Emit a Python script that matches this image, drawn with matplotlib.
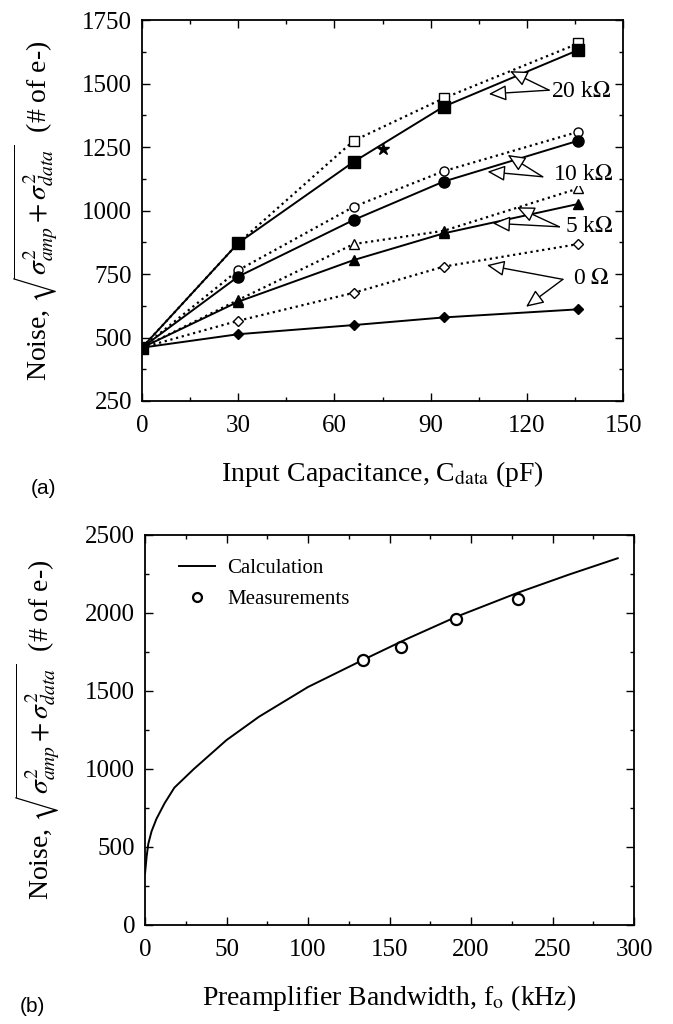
import matplotlib
matplotlib.use("Agg")
import matplotlib.pyplot as plt
from matplotlib.ticker import MultipleLocator

plt.rcParams['font.family'] = ['Liberation Serif', 'DejaVu Serif']
plt.rcParams['mathtext.fontset'] = 'stix'

# panel (a): noise vs input capacitance
cap = [0, 30, 66, 94, 136]
r20_solid = [460, 872, 1192, 1409, 1632]
r20_dot = [460, 872, 1275, 1442, 1658]
r10_solid = [460, 740, 963, 1114, 1275]
r10_dot = [460, 765, 1015, 1155, 1310]
r5_solid = [460, 641, 805, 910, 1026]
r5_dot = [460, 648, 868, 920, 1087]
r0_solid = [460, 513, 549, 579, 611]
r0_dot = [460, 566, 676, 779, 868]
star_x, star_y = [75], [1242]

# annotation labels: text pos, arrow source, two arrow tips
ann_labels = ['20 k$\\Omega$', '10 k$\\Omega$', '5 k$\\Omega$', '0 $\\Omega$']
ann_text = [(137, 1467), (137.5, 1140), (139.4, 936), (140, 734)]
ann_src = [(126.9, 1474), (124.9, 1133), (130.1, 936), (131.2, 729)]
ann_tip1 = [(114.7, 1549), (114.0, 1219), (116.9, 1013), (107.5, 785)]
ann_tip2 = [(108.1, 1459), (107.7, 1153), (109.3, 950), (119.7, 621)]

# panel (b): noise vs preamp bandwidth
bw_calc = [0, 1, 2, 4, 7, 12, 18, 30, 50, 70, 100, 134, 160, 191, 229, 260, 290]
noise_calc = [330, 440, 520, 600, 680, 780, 880, 1000, 1185, 1335, 1525, 1700,
              1830, 1975, 2130, 2245, 2350]
bw_meas = [134, 157, 191, 229]
noise_meas = [1700, 1784, 1962, 2088]

fig = plt.figure(figsize=(6.73, 10.24), dpi=100)
ax1 = fig.add_axes([0.211, 0.6084, 0.715, 0.372])
ax2 = fig.add_axes([0.2155, 0.0967, 0.7266, 0.381])

ylab = r'Noise, $\sqrt{\sigma^2_{amp}+\sigma^2_{data}}$  (# of e-)'

# open-marker (dotted) series first, filled ones on top
dot_kw = dict(color='black', ls=':', lw=1.6, mfc='white', mec='black', mew=1.0)
ax1.plot(cap, r0_dot, marker='D', ms=5, **dot_kw)
ax1.plot(cap, r5_dot, marker='^', ms=6.5, **dot_kw)
ax1.plot(cap, r10_dot, marker='o', ms=6.5, **dot_kw)
ax1.plot(cap, r20_dot, marker='s', ms=7.5, **dot_kw)

sol_kw = dict(color='black', ls='-', lw=1.4)
ax1.plot(cap, r0_solid, marker='D', ms=5.5, **sol_kw)
ax1.plot(cap, r5_solid, marker='^', ms=7, **sol_kw)
ax1.plot(cap, r10_solid, marker='o', ms=8, **sol_kw)
ax1.plot(cap, r20_solid, marker='s', ms=8, **sol_kw)
ax1.plot(star_x, star_y, marker='*', ms=9, color='black', ls='none')

arrow_kw = dict(arrowstyle='-|>,head_length=0.9,head_width=0.4', fc='white',
                ec='black', lw=1.0, shrinkA=0, shrinkB=0, mutation_scale=12)
for lab, t, s, p1, p2 in zip(ann_labels, ann_text, ann_src, ann_tip1, ann_tip2):
    ax1.annotate('', xy=p1, xytext=s, arrowprops=arrow_kw)
    ax1.annotate('', xy=p2, xytext=s, arrowprops=arrow_kw)
    ax1.text(t[0], t[1], lab, ha='center', va='center', fontsize=17,
             bbox=dict(fc='white', ec='none', pad=0.5))

ax1.set_xlim(0, 150)
ax1.set_ylim(250, 1750)
ax1.xaxis.set_major_locator(MultipleLocator(30))
ax1.xaxis.set_minor_locator(MultipleLocator(15))
ax1.yaxis.set_major_locator(MultipleLocator(250))
ax1.yaxis.set_minor_locator(MultipleLocator(125))
ax1.set_xlabel(r'Input Capacitance, C$_{\rm data}$ (pF)', fontsize=20, labelpad=16)
ax1.set_ylabel(ylab, fontsize=20)
ax1.yaxis.set_label_coords(-0.17, 0.5)

# panel (b)
ax2.plot(bw_calc, noise_calc, color='black', lw=1.4, label='Calculation')
ax2.plot(bw_meas, noise_meas, ls='none', marker='o', ms=8, mfc='white',
         mec='black', mew=1.6, label='Measurements')
ax2.set_xlim(0, 300)
ax2.set_ylim(0, 2500)
ax2.xaxis.set_major_locator(MultipleLocator(50))
ax2.xaxis.set_minor_locator(MultipleLocator(25))
ax2.yaxis.set_major_locator(MultipleLocator(500))
ax2.yaxis.set_minor_locator(MultipleLocator(250))
ax2.set_xlabel(r'Preamplifier Bandwidth, f$_{\rm o}$ (kHz)', fontsize=20, labelpad=16)
ax2.set_ylabel(ylab, fontsize=20)
ax2.yaxis.set_label_coords(-0.17, 0.5)
ax2.legend(loc='upper left', bbox_to_anchor=(0.07, 0.94), frameon=False,
           fontsize=15, handlelength=1.7, handletextpad=0.6, labelspacing=0.55,
           borderaxespad=0, borderpad=0, markerscale=0.8)

for ax in (ax1, ax2):
    ax.tick_params(which='both', direction='in', top=True, right=True,
                   labelsize=18, width=1.0)
    ax.tick_params(which='major', length=6)
    ax.tick_params(which='minor', length=3)
    ax.tick_params(axis='x', pad=10)
    ax.tick_params(axis='y', pad=7)
    for sp in ax.spines.values():
        sp.set_linewidth(1.3)

fig.text(44 / 673, 1 - 489 / 1024, '(a)', family=['Liberation Sans', 'DejaVu Sans'],
         fontsize=15, ha='center', va='center')
fig.text(32 / 673, 1 - 1006 / 1024, '(b)', family=['Liberation Sans', 'DejaVu Sans'],
         fontsize=15, ha='center', va='center')

fig.savefig('out.png', dpi=100, facecolor='white')
